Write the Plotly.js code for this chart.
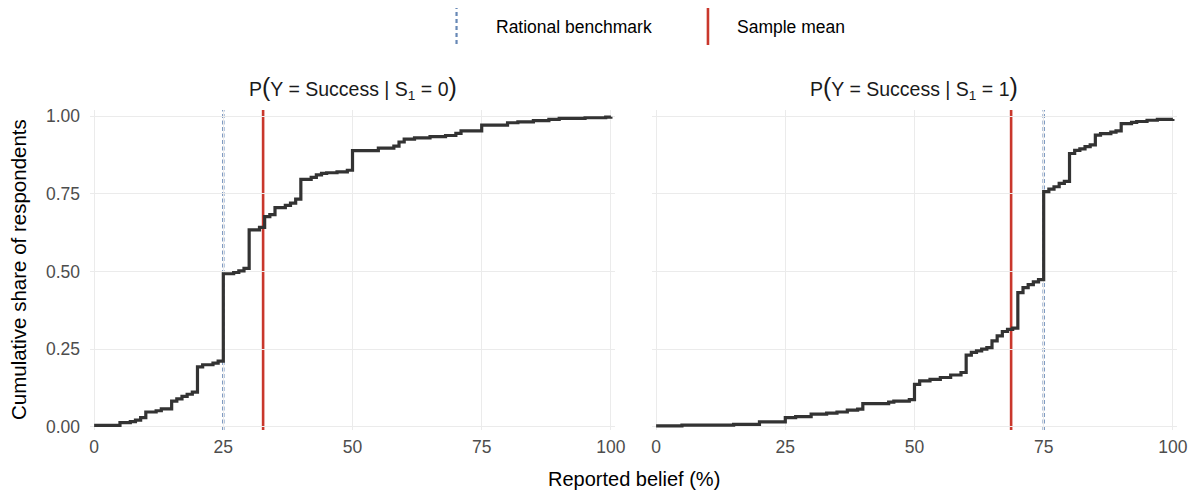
<!DOCTYPE html>
<html>
<head>
<meta charset="utf-8">
<script src="https://cdn.plot.ly/plotly-3.0.1.min.js"></script>
<style>html,body{margin:0;padding:0;background:#fff;}</style>
</head>
<body>
<div id="chart" style="width:1196px;height:490px;"></div>
<script>
// ECDF of reported beliefs, signal S1 = 0
const beliefS0 = [0,5,7,8,9,10,12,13,15,16,17,18,19,20,21,23,24,25,27,28,29,30,32,33,34,35,37,38,39,40,42,43,44,45,47,49,50,55,58,59,60,62,65,68,70,71,75,80,82,85,88,90,95,99,100];
const shareS0  = [0.005,0.014,0.017,0.022,0.030,0.048,0.052,0.058,0.083,0.090,0.098,0.105,0.112,0.193,0.200,0.205,0.212,0.493,0.497,0.502,0.510,0.634,0.642,0.677,0.683,0.706,0.713,0.720,0.733,0.797,0.803,0.811,0.816,0.818,0.821,0.826,0.889,0.897,0.904,0.917,0.926,0.930,0.934,0.938,0.945,0.953,0.971,0.979,0.982,0.986,0.990,0.993,0.995,0.997,0.998];
// ECDF of reported beliefs, signal S1 = 1
const beliefS1 = [0,5,15,20,25,27,30,33,35,37,39,40,45,46,49,50,51,53,55,57,59,60,61,62,63,64,65,66,67,68,69,70,71,72,73,74,75,76,77,78,79,80,81,82,83,84,85,86,88,89,90,92,93,95,97,100];
const shareS1  = [0.003,0.006,0.008,0.016,0.030,0.033,0.041,0.044,0.048,0.054,0.057,0.075,0.080,0.083,0.088,0.137,0.148,0.153,0.159,0.167,0.175,0.231,0.240,0.245,0.250,0.255,0.277,0.293,0.307,0.314,0.318,0.432,0.448,0.458,0.467,0.474,0.757,0.765,0.773,0.784,0.790,0.880,0.890,0.895,0.902,0.908,0.939,0.944,0.949,0.953,0.976,0.980,0.983,0.987,0.990,0.991];

const panelTitles = ['P<span style="font-size:25px">(</span>Y = Success | S<sub>1</sub> = 0<span style="font-size:25px">)</span>',
                     'P<span style="font-size:25px">(</span>Y = Success | S<sub>1</sub> = 1<span style="font-size:25px">)</span>'];
const rationalBenchmark = [25, 75];
const sampleMean = [32.7, 68.7];
const xTicks = [0, 25, 50, 75, 100];
const yTicks = [0, 0.25, 0.5, 0.75, 1];
const legendLabels = ['Rational benchmark', 'Sample mean'];
const xTitle = 'Reported belief (%)';
const yTitle = 'Cumulative share of respondents';

const FONT = 'Liberation Sans, Arial, Helvetica, sans-serif';
const curveColor = '#333333';
const benchColor = '#6788b6';
const meanColor = '#c9372c';

const traces = [
  {x: beliefS0, y: shareS0, xaxis: 'x', yaxis: 'y', type: 'scatter', mode: 'lines',
   line: {shape: 'hv', color: curveColor, width: 3.2}, showlegend: false, hoverinfo: 'x+y'},
  {x: beliefS1, y: shareS1, xaxis: 'x2', yaxis: 'y2', type: 'scatter', mode: 'lines',
   line: {shape: 'hv', color: curveColor, width: 3.2}, showlegend: false, hoverinfo: 'x+y'}
];

const axisX = (domain, anchor) => ({
  domain: domain, anchor: anchor, range: [-0.8, 100.8], tickvals: xTicks,
  ticktext: xTicks.map(String), showgrid: true, gridcolor: '#ebebeb', gridwidth: 1.2,
  zeroline: false, showline: false, ticks: '', ticklabelstandoff: 4,
  tickfont: {family: FONT, size: 17.5, color: '#4d4d4d'}
});
const axisY = (anchor, showLabels) => ({
  anchor: anchor, range: [-0.01, 1.02], tickvals: yTicks, tickformat: '.2f',
  showgrid: true, gridcolor: '#ebebeb', gridwidth: 1.2, zeroline: false, showline: false,
  ticks: '', showticklabels: showLabels, ticklabelstandoff: 9,
  tickfont: {family: FONT, size: 17.5, color: '#4d4d4d'}
});

const shapes = [];
['x', 'x2'].forEach((xr, i) => {
  shapes.push({type: 'line', xref: xr, yref: (i === 0 ? 'y' : 'y2') + ' domain',
    x0: rationalBenchmark[i], x1: rationalBenchmark[i], y0: 0, y1: 1,
    line: {color: benchColor, width: 2.3, dash: '4px,2.5px'}, layer: 'below'});
  shapes.push({type: 'line', xref: xr, yref: (i === 0 ? 'y' : 'y2') + ' domain',
    x0: sampleMean[i], x1: sampleMean[i], y0: 0, y1: 1,
    line: {color: meanColor, width: 2.6}, layer: 'below'});
});
// legend keys (vertical line glyphs)
shapes.push({type: 'line', xref: 'paper', yref: 'paper', x0: 0.3372, x1: 0.3372, y0: 1.2063, y1: 1.3188,
  line: {color: benchColor, width: 2.2, dash: '4px,3px'}});
shapes.push({type: 'line', xref: 'paper', yref: 'paper', x0: 0.5685, x1: 0.5685, y0: 1.2031, y1: 1.3188,
  line: {color: meanColor, width: 2.6}});

const annotations = [
  {text: panelTitles[0], xref: 'x domain', yref: 'paper', x: 0.5, y: 1.069, xanchor: 'center', yanchor: 'middle',
   showarrow: false, font: {family: FONT, size: 19.5, color: '#1a1a1a'}},
  {text: panelTitles[1], xref: 'x2 domain', yref: 'paper', x: 0.5, y: 1.069, xanchor: 'center', yanchor: 'middle',
   showarrow: false, font: {family: FONT, size: 19.5, color: '#1a1a1a'}},
  {text: xTitle, xref: 'paper', yref: 'paper', x: 0.5, y: -0.153, xanchor: 'center', yanchor: 'middle',
   showarrow: false, font: {family: FONT, size: 20, color: '#000000'}},
  {text: yTitle, xref: 'paper', yref: 'paper', x: -0.0662, y: 0.5, xanchor: 'center', yanchor: 'middle',
   textangle: -90, showarrow: false, font: {family: FONT, size: 20.5, color: '#000000'}},
  {text: legendLabels[0], xref: 'paper', yref: 'paper', x: 0.3717, y: 1.2594, xanchor: 'left', yanchor: 'middle',
   showarrow: false, font: {family: FONT, size: 17.5, color: '#000000'}},
  {text: legendLabels[1], xref: 'paper', yref: 'paper', x: 0.5934, y: 1.2594, xanchor: 'left', yanchor: 'middle',
   showarrow: false, font: {family: FONT, size: 17.5, color: '#000000'}}
];

const layout = {
  width: 1196, height: 490,
  margin: {l: 90, r: 19, t: 110, b: 60, pad: 0},
  paper_bgcolor: '#ffffff', plot_bgcolor: '#ffffff',
  showlegend: false,
  font: {family: FONT},
  xaxis: axisX([0, 0.483], 'y'),
  yaxis: axisY('x', true),
  xaxis2: axisX([0.517, 1], 'y2'),
  yaxis2: axisY('x2', false),
  shapes: shapes,
  annotations: annotations
};

Plotly.newPlot('chart', traces, layout, {displayModeBar: false, staticPlot: true});
</script>
</body>
</html>
